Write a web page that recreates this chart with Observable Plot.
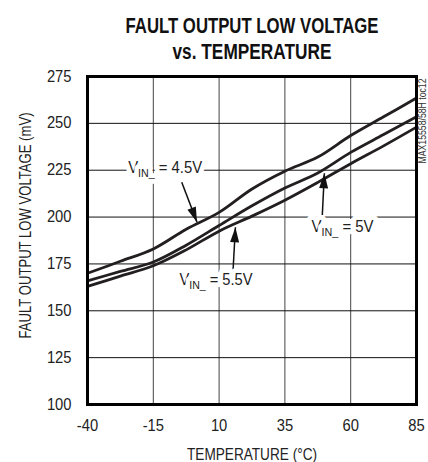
<!DOCTYPE html>
<html><head><meta charset="utf-8">
<script src="https://cdn.jsdelivr.net/npm/d3@7"></script>
<script src="https://cdn.jsdelivr.net/npm/@observablehq/plot@0.6"></script>
<style>body{margin:0;background:#fff}</style>
</head><body><div id="chart"></div>
<script>
// ---- data ----
const temps = [-40, -27.5, -15, -2.5, 10, 22.5, 35, 47.5, 60, 72.5, 85];
const vin45 = [170, 176.4, 183, 193.5, 202.5, 215, 224.5, 232, 243.5, 253.5, 263.5];
const vin50 = [166, 171, 176, 185, 195.5, 206, 215.5, 223.5, 234.5, 244, 253.5];
const vin55 = [163, 168.5, 174, 182.5, 192.5, 200.5, 209, 218.5, 228.5, 238, 248];
const seriesNames = ["4.5V", "5V", "5.5V"];
const xTicks = [-40, -15, 10, 35, 60, 85];
const yTicks = [100, 125, 150, 175, 200, 225, 250, 275];
const labelText = ["VIN_ = 4.5V", "VIN_ = 5V", "VIN_ = 5.5V"];
const labelX = [-10.5, 56.9, 8.8];
const labelY = [226, 195, 166.7];
const arrowFromX = [-4.2, 49.2, 15.3];
const arrowFromY = [218.6, 200.8, 171.5];
const arrowToX = [1.6, 50.0, 16.2];
const arrowToY = [197.3, 223.4, 194.6];
const titleLines = ["FAULT OUTPUT LOW VOLTAGE", "vs. TEMPERATURE"];
const xLabel = "TEMPERATURE (°C)";
const yLabel = "FAULT OUTPUT LOW VOLTAGE (mV)";
const noteText = "MAX15558/58H toc12";

const rows = [];
[vin45, vin50, vin55].forEach((vals, s) =>
  temps.forEach((t, i) => rows.push({series: seriesNames[s], t, v: vals[i]})));
const labels = labelText.map((text, i) => ({text, x: labelX[i], y: labelY[i]}));
const arrows = arrowFromX.map((_, i) => ({x1: arrowFromX[i], y1: arrowFromY[i], x2: arrowToX[i], y2: arrowToY[i]}));

const font = '"Liberation Sans", Arial, sans-serif';

const chart = Plot.plot({
  width: 428, height: 462,
  marginLeft: 87, marginRight: 12, marginTop: 76, marginBottom: 58,
  style: {fontFamily: font, fontSize: "16px", color: "#222", background: "#fff"},
  x: {domain: [-40, 85], ticks: xTicks, tickSize: 0, tickPadding: 15, label: null, tickFormat: d => String(d)},
  y: {domain: [100, 275], ticks: yTicks, tickSize: 0, tickPadding: 16, label: null, tickFormat: d => String(d)},
  marks: [
    Plot.ruleX(xTicks.slice(1, -1), {stroke: "#444", strokeWidth: 1}),
    Plot.ruleY(yTicks.slice(1, -1), {stroke: "#111", strokeWidth: 1}),
    Plot.line(rows, {x: "t", y: "v", z: "series", stroke: "#231f20", strokeWidth: 2.8, curve: "catmull-rom"}),
    Plot.link(arrows, {x1: "x1", y1: "y1", x2: "x2", y2: "y2", stroke: "#111", strokeWidth: 1.5}),
    Plot.text(labels, {x: "x", y: "y", text: "text", fill: "#222", stroke: "white", strokeWidth: 10, paintOrder: "stroke", fontSize: 16}),
    Plot.frame({stroke: "#000", strokeWidth: 3}),
    Plot.text([titleLines[0]], {frameAnchor: "top", textAnchor: "middle", lineAnchor: "bottom", dy: -44, fontSize: 22, fontWeight: "bold", fill: "#111"}),
    Plot.text([titleLines[1]], {frameAnchor: "top", textAnchor: "middle", lineAnchor: "bottom", dy: -18, fontSize: 22, fontWeight: "bold", fill: "#111"}),
    Plot.text([xLabel], {frameAnchor: "bottom", textAnchor: "middle", lineAnchor: "bottom", dy: 55, fontSize: 16, fill: "#222"}),
    Plot.text([yLabel], {frameAnchor: "left", rotate: -90, textAnchor: "middle", lineAnchor: "middle", dx: -62, dy: -15, fontSize: 16, fill: "#222"}),
    Plot.text([noteText], {frameAnchor: "top-right", rotate: -90, textAnchor: "end", lineAnchor: "middle", dx: 6, dy: 2, fontSize: 10, fill: "#333"})
  ]
});

const ns = "http://www.w3.org/2000/svg";
// arrowheads: filled triangles
const defs = document.createElementNS(ns, "defs");
const marker = document.createElementNS(ns, "marker");
marker.setAttribute("id", "ahead");
marker.setAttribute("viewBox", "-16 -6 17 12");
marker.setAttribute("refX", "0");
marker.setAttribute("refY", "0");
marker.setAttribute("markerWidth", "17");
marker.setAttribute("markerHeight", "12");
marker.setAttribute("markerUnits", "userSpaceOnUse");
marker.setAttribute("orient", "auto");
const mp = document.createElementNS(ns, "path");
mp.setAttribute("d", "M-15,-4.5L0,0L-15,4.5Z");
mp.setAttribute("fill", "#111");
marker.appendChild(mp);
defs.appendChild(marker);
chart.insertBefore(defs, chart.firstChild);
chart.querySelectorAll('g[aria-label="link"] path, g[aria-label="link"] line').forEach(p => p.setAttribute("marker-end", "url(#ahead)"));

// subscripts "IN_"
chart.querySelectorAll("text").forEach(t => {
  const s = t.textContent;
  if (!s.startsWith("VIN_")) return;
  const rest = s.slice(4);
  t.textContent = "";
  const a = document.createElementNS(ns, "tspan"); a.textContent = "V";
  const b = document.createElementNS(ns, "tspan"); b.textContent = "IN_"; b.setAttribute("font-size", "11.5"); b.setAttribute("dy", "4");
  const c = document.createElementNS(ns, "tspan"); c.textContent = rest; c.setAttribute("dy", "-4");
  t.append(a, b, c);
});

document.getElementById("chart").appendChild(chart);

// narrow the glyphs (condensed Helvetica look)
const exact = {};
exact[titleLines[0]] = 253;
exact[titleLines[1]] = 159;
exact[xLabel] = 130;
exact[yLabel] = 226;
exact[noteText] = 85;
exact[labelText[0]] = 74;
exact[labelText[1]] = 62;
exact[labelText[2]] = 73;
chart.querySelectorAll("text").forEach(t => {
  const s = t.textContent;
  const len = t.getComputedTextLength();
  const target = exact[s] !== undefined ? exact[s] : len * 0.92;
  if (len > 0) {
    t.setAttribute("textLength", target.toFixed(1));
    t.setAttribute("lengthAdjust", "spacingAndGlyphs");
  }
});
</script>
</body></html>
